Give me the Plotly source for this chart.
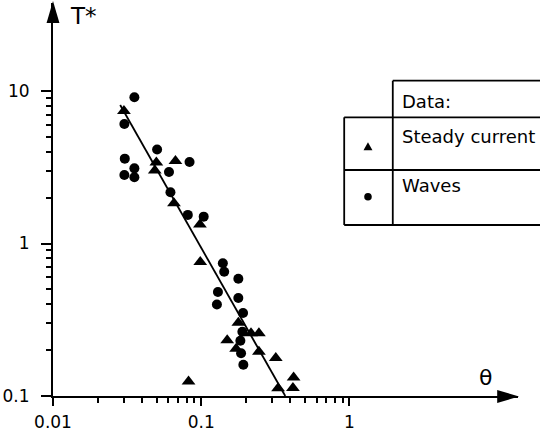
import plotly.graph_objects as go

# ---- data ----
waves_theta = [0.0354, 0.0303, 0.0504, 0.0305, 0.0834, 0.0354, 0.0303, 0.0354, 0.0606, 0.0620,
               0.0812, 0.1039, 0.1399, 0.1429, 0.178, 0.1296, 0.178, 0.1276, 0.1915, 0.1895,
               0.1837, 0.1857, 0.1924]
waves_T = [9.09, 6.08, 4.13, 3.60, 3.42, 3.11, 2.81, 2.72, 2.94, 2.17,
           1.54, 1.50, 0.742, 0.653, 0.588, 0.481, 0.439, 0.398, 0.350, 0.264,
           0.2305, 0.1905, 0.1604]

current_theta = [0.0301, 0.0498, 0.0670, 0.0486, 0.0655, 0.098, 0.0985, 0.178, 0.2167, 0.245,
                 0.1497, 0.172, 0.245, 0.3184, 0.0821, 0.420, 0.330, 0.4157]
current_T = [7.39, 3.40, 3.48, 3.01, 1.835, 1.332, 0.756, 0.302, 0.2577, 0.2577,
             0.2319, 0.204, 0.1952, 0.1775, 0.1245, 0.132, 0.1125, 0.1128]

fit_theta = [0.0284, 0.369]
fit_T = [8.1, 0.1]

x_major = [0.01, 0.1, 1]
x_major_text = ["0.01", "0.1", "1"]
x_minor = [0.02, 0.03, 0.04, 0.05, 0.06, 0.07, 0.08, 0.09,
           0.2, 0.3, 0.4, 0.5, 0.6, 0.7, 0.8, 0.9]
y_major = [0.1, 1, 10]
y_major_text = ["0.1", "1", "10"]
y_minor = [0.2, 0.3, 0.4, 0.5, 0.6, 0.7, 0.8, 0.9,
           2, 3, 4, 5, 6, 7, 8, 9]

legend_title = "Data:"
legend_labels = ["Steady current", "Waves"]

# ---- layout geometry ----
W, H = 540, 436
ML, MR, MT, MB = 49, 22, 3, 40
PW, PH = W - ML - MR, H - MT - MB
FONT = "DejaVu Sans"


def PX(px):
    return (px - ML) / PW


def PY(py):
    return (H - MB - py) / PH


fig = go.Figure()

fig.add_trace(go.Scatter(x=fit_theta, y=fit_T, mode="lines",
                         line=dict(color="black", width=1.8), hoverinfo="skip"))
fig.add_trace(go.Scatter(x=current_theta, y=current_T, mode="markers", name=legend_labels[0],
                         marker=dict(symbol="triangle-up", size=12, color="black")))
fig.add_trace(go.Scatter(x=waves_theta, y=waves_T, mode="markers", name=legend_labels[1],
                         marker=dict(symbol="circle", size=10, color="black")))

shapes = []
# arrowheads
shapes.append(dict(type="path", xref="paper", yref="paper",
                   path=f"M {PX(49)} {PY(1)} L {PX(42.5)} {PY(23)} L {PX(55.5)} {PY(23)} Z",
                   fillcolor="black", line=dict(width=0)))
shapes.append(dict(type="path", xref="paper", yref="paper",
                   path=f"M {PX(519)} {PY(396.5)} L {PX(497)} {PY(390)} L {PX(497)} {PY(403)} Z",
                   fillcolor="black", line=dict(width=0)))

# legend table
lw = 1.8
def seg(x0, y0, x1, y1):
    shapes.append(dict(type="line", xref="paper", yref="paper",
                       x0=PX(x0), y0=PY(y0), x1=PX(x1), y1=PY(y1),
                       line=dict(color="black", width=lw)))

seg(391.7, 80.7, 560, 80.7)
seg(342.7, 117.3, 560, 117.3)
seg(342.7, 170, 560, 170)
seg(342.7, 225, 560, 225)
seg(391.7, 80.7, 391.7, 225)
seg(342.7, 117.3, 342.7, 225)

# legend symbols
cx, cy = 366.7, 146.7
shapes.append(dict(type="path", xref="paper", yref="paper",
                   path=f"M {PX(cx)} {PY(cy-4.5)} L {PX(cx-4.5)} {PY(cy+3.5)} L {PX(cx+4.5)} {PY(cy+3.5)} Z",
                   fillcolor="black", line=dict(width=0)))
cy2 = 196.7
shapes.append(dict(type="circle", xref="paper", yref="paper",
                   x0=PX(cx - 3.8), x1=PX(cx + 3.8), y0=PY(cy2 + 3.8), y1=PY(cy2 - 3.8),
                   fillcolor="black", line=dict(width=0)))

annotations = [
    dict(text=legend_title, x=PX(399), y=PY(102), xref="paper", yref="paper",
         xanchor="left", yanchor="middle", showarrow=False, font=dict(size=18)),
    dict(text=legend_labels[0], x=PX(399), y=PY(136.5), xref="paper", yref="paper",
         xanchor="left", yanchor="middle", showarrow=False, font=dict(size=18)),
    dict(text=legend_labels[1], x=PX(399), y=PY(185.5), xref="paper", yref="paper",
         xanchor="left", yanchor="middle", showarrow=False, font=dict(size=18)),
    dict(text="T*", x=PX(64), y=PY(16), xref="paper", yref="paper",
         xanchor="left", yanchor="middle", showarrow=False, font=dict(size=23)),
    dict(text="θ", x=PX(485), y=PY(377), xref="paper", yref="paper",
         xanchor="center", yanchor="middle", showarrow=False, font=dict(size=22)),
]

fig.update_layout(
    width=W, height=H,
    margin=dict(l=ML, r=MR, t=MT, b=MB, pad=0),
    paper_bgcolor="white", plot_bgcolor="white",
    showlegend=False,
    font=dict(family=FONT, color="black", size=17),
    shapes=shapes, annotations=annotations,
    xaxis=dict(type="log", range=[-2, -2 + PW / 149.5],
               showgrid=False, zeroline=False, showline=True, linecolor="black", linewidth=2,
               tickmode="array", tickvals=x_major, ticktext=x_major_text,
               ticks="outside", ticklen=8, tickwidth=1.5, tickcolor="black",
               ticklabelstandoff=2,
               minor=dict(tickmode="array", tickvals=x_minor, ticks="outside",
                          ticklen=5, tickwidth=1.5, tickcolor="black", showgrid=False)),
    yaxis=dict(type="log", range=[-1, -1 + PH / 152.5],
               showgrid=False, zeroline=False, showline=True, linecolor="black", linewidth=2,
               tickmode="array", tickvals=y_major, ticktext=y_major_text,
               ticks="outside", ticklen=10, tickwidth=1.5, tickcolor="black",
               ticklabelstandoff=8,
               minor=dict(tickmode="array", tickvals=y_minor, ticks="outside",
                          ticklen=5, tickwidth=1.5, tickcolor="black", showgrid=False)),
)

fig.write_html("out.html")
